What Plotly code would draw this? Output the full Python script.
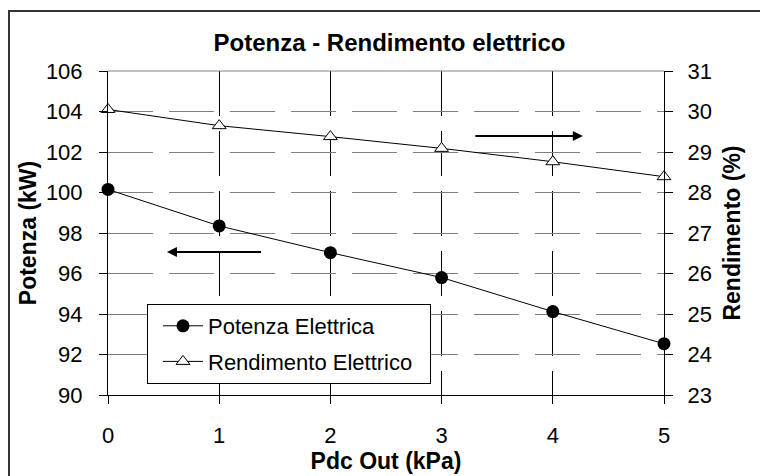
import plotly.graph_objects as go

pdc_out = [0, 1, 2, 3, 4, 5]
potenza = [100.15, 98.35, 97.03, 95.8, 94.12, 92.53]
rendimento = [30.05, 29.65, 29.38, 29.09, 28.76, 28.39]

x_ticks = [0, 1, 2, 3, 4, 5]
y1_ticks = [90, 92, 94, 96, 98, 100, 102, 104, 106]
y2_ticks = [23, 24, 25, 26, 27, 28, 29, 30, 31]

FONT = "Arial, Liberation Sans, sans-serif"

fig = go.Figure()
fig.add_trace(go.Scatter(
    x=pdc_out, y=potenza, name="Potenza Elettrica", mode="lines+markers",
    line=dict(color="black", width=1),
    marker=dict(symbol="circle", size=13, color="black"),
    cliponaxis=False, legendgroup="a", yaxis="y"))
fig.add_trace(go.Scatter(
    x=pdc_out, y=rendimento, name="Rendimento Elettrico\u00a0\u00a0", mode="lines+markers",
    line=dict(color="black", width=1),
    marker=dict(symbol="triangle-up", size=12, color="white",
                line=dict(color="black", width=1)),
    cliponaxis=False, legendgroup="b", yaxis="y2"))

tickfont = dict(family=FONT, size=22, color="black")
titlefont = dict(family=FONT, size=23, color="black", weight="bold")

fig.update_layout(
    width=760, height=476,
    margin=dict(l=108, r=760 - 664, t=71, b=476 - 395),
    paper_bgcolor="white", plot_bgcolor="white",
    title=dict(text="Potenza - Rendimento elettrico",
               font=dict(family=FONT, size=24, color="black", weight="bold"),
               x=389.5 / 760, xref="container", xanchor="center",
               y=1 - 43 / 476, yref="container", yanchor="middle"),
    xaxis=dict(range=[0, 5], tickvals=x_ticks, ticks="outside", ticklen=8,
               tickcolor="black", showline=True, linecolor="black", linewidth=1,
               showgrid=True, gridcolor="black", gridwidth=1, griddash="45px,15px",
               zeroline=False, tickfont=tickfont, ticklabelstandoff=13,
               title=dict(text="Pdc Out (kPa)", font=titlefont, standoff=2),
               automargin=False),
    yaxis=dict(range=[90, 106], tickvals=y1_ticks, ticks="outside", ticklen=8,
               tickcolor="black", showline=True, linecolor="black", linewidth=1,
               showgrid=True, gridcolor="#808080", gridwidth=1, griddash="45px,16px",
               zeroline=False, tickfont=tickfont, ticklabelstandoff=12,
               title=dict(text="Potenza (kW)", font=titlefont, standoff=2),
               automargin=False),
    yaxis2=dict(range=[23, 31], tickvals=y2_ticks, overlaying="y", side="right",
                anchor="x", ticks="outside", ticklen=8, tickcolor="black",
                showline=True, linecolor="black", linewidth=1, showgrid=False,
                zeroline=False, tickfont=tickfont, ticklabelstandoff=10,
                title=dict(text="Rendimento (%)", font=titlefont, standoff=13),
                automargin=False),
    yaxis3=dict(range=[23, 31], tickvals=y2_ticks, overlaying="y", side="right",
                anchor="x", ticks="inside", ticklen=8, tickcolor="black",
                showline=False, showgrid=False, zeroline=False,
                showticklabels=False),
    legend=dict(x=(147 - 108) / 556, y=(395 - 304) / 324, xanchor="left",
                yanchor="top", bgcolor="white", bordercolor="black",
                borderwidth=1, font=dict(family=FONT, size=22, color="black"),
                tracegroupgap=4, itemwidth=40, indentation=10),
    showlegend=True,
    shapes=[
        dict(type="line", xref="paper", yref="paper", x0=0, x1=1, y0=1, y1=1,
             line=dict(color="#808080", width=1)),
        dict(type="rect", xref="paper", yref="paper",
             x0=(9 - 108) / 556, x1=(775 - 108) / 556,
             y0=(395 - 490) / 324, y1=(395 - 11) / 324,
             line=dict(color="#333333", width=2), layer="below"),
    ],
    annotations=[
        dict(x=0.53, y=97.06, ax=1.39, ay=97.06, xref="x", yref="y",
             axref="x", ayref="y", showarrow=True, arrowhead=2, arrowsize=1,
             arrowwidth=2, arrowcolor="black", text=""),
        dict(x=4.27, y=102.79, ax=3.29, ay=102.79, xref="x", yref="y",
             axref="x", ayref="y", showarrow=True, arrowhead=2, arrowsize=1,
             arrowwidth=2, arrowcolor="black", text=""),
    ],
)

fig.write_html("out.html",
               config={"displayModeBar": False},
               post_script="document.body.style.margin='0';document.body.style.overflow='hidden';")
